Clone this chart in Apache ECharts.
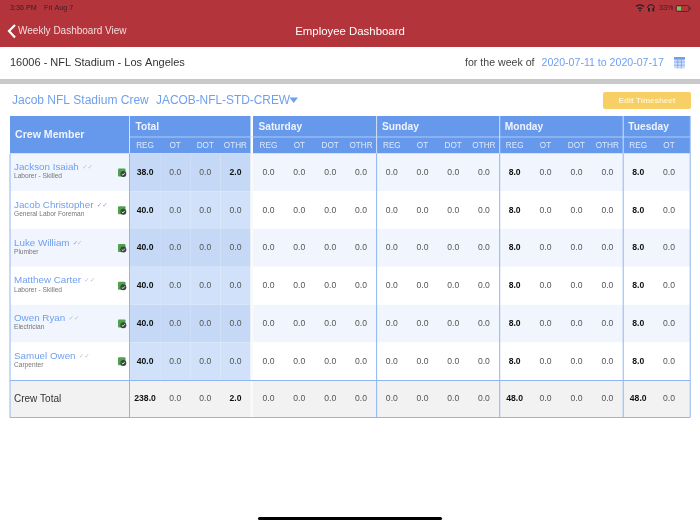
<!DOCTYPE html>
<html>
<head>
<meta charset="utf-8">
<style>html,body{margin:0;padding:0;background:#fff}#main{width:700px;height:525px}</style>
<script src="https://cdn.jsdelivr.net/npm/echarts@6/dist/echarts.min.js"></script>
</head>
<body>
<div id="main"></div>
<script>
var crewRows = ['Jackson Isaiah', 'Jacob Christopher', 'Luke William', 'Matthew Carter', 'Owen Ryan', 'Samuel Owen', 'Crew Total'];
var crewRoles = ['Laborer - Skilled', 'General Labor Foreman', 'Plumber', 'Laborer - Skilled', 'Electrician', 'Carpenter', ''];
var crewChecks = [0, 2, 1, 0, 0, 0];
var fullColumns = ['REG', 'OT', 'DOT', 'OTHR'];

// one value per row, last one is the crew total
var totalReg = [38, 40, 40, 40, 40, 40, 238];
var totalOt = [0, 0, 0, 0, 0, 0, 0];
var totalDot = [0, 0, 0, 0, 0, 0, 0];
var totalOthr = [2, 0, 0, 0, 0, 0, 2];
var satReg = [0, 0, 0, 0, 0, 0, 0];
var satOt = [0, 0, 0, 0, 0, 0, 0];
var satDot = [0, 0, 0, 0, 0, 0, 0];
var satOthr = [0, 0, 0, 0, 0, 0, 0];
var sunReg = [0, 0, 0, 0, 0, 0, 0];
var sunOt = [0, 0, 0, 0, 0, 0, 0];
var sunDot = [0, 0, 0, 0, 0, 0, 0];
var sunOthr = [0, 0, 0, 0, 0, 0, 0];
var monReg = [8, 8, 8, 8, 8, 8, 48];
var monOt = [0, 0, 0, 0, 0, 0, 0];
var monDot = [0, 0, 0, 0, 0, 0, 0];
var monOthr = [0, 0, 0, 0, 0, 0, 0];
var tueReg = [8, 8, 8, 8, 8, 8, 48];
var tueOt = [0, 0, 0, 0, 0, 0, 0];

var groupNames = ['Total', 'Saturday', 'Sunday', 'Monday', 'Tuesday'];
var groupLeft = [130, 253, 376.5, 499.2, 622.8];
var groupWidth = [120.5, 123.5, 122.7, 123.6, 61.6];
var groupColumns = [fullColumns, fullColumns, fullColumns, fullColumns, ['REG', 'OT']];
var groupValues = [
    [totalReg, totalOt, totalDot, totalOthr],
    [satReg, satOt, satDot, satOthr],
    [sunReg, sunOt, sunDot, sunOthr],
    [monReg, monOt, monDot, monOthr],
    [tueReg, tueOt]
];

var FONT = '"Liberation Sans", Arial, sans-serif';
var RED = '#b4343c', HEAD = '#6699ec', LINK = '#6f9fef', EDGE = '#8fb6f0';
var gridTop = 153.5, gridHeight = 264.5;

function bandColor(row) {
    if (row == 6) return '#f2f2f2';
    return row % 2 == 0 ? '#f0f5fe' : '#ffffff';
}

/* whole table: row bands, names, roles and the status icon */
function renderRow(params, api) {
    var row = api.value(1);
    var cs = params.coordSys;
    var size = api.size([0, 1]);
    var cy = api.coord([0, row])[1];
    var kids = [{
        type: 'rect',
        shape: { x: cs.x, y: cy - size[1] / 2, width: cs.width, height: size[1] },
        style: { fill: bandColor(row) }
    }];
    if (row == 6) {
        kids.push({ type: 'text', style: { x: 14, y: cy, text: crewRows[row], fontSize: 10, fontFamily: FONT, fill: '#333', verticalAlign: 'middle' } });
        return { type: 'group', children: kids };
    }
    var c = crewChecks[row];
    var marks = c == 2 ? '{b|✓✓}' : c == 1 ? '{b|✓}{g|✓}' : '{g|✓✓}';
    kids.push({
        type: 'text',
        style: {
            x: 14, y: cy - 5, verticalAlign: 'middle',
            text: '{n|' + crewRows[row] + '} ' + marks,
            rich: {
                n: { fontSize: 9.8, fontFamily: FONT, fill: LINK },
                b: { fontSize: 6.5, fontFamily: 'DejaVu Sans', fill: LINK, width: 4 },
                g: { fontSize: 6.5, fontFamily: 'DejaVu Sans', fill: '#b9bec6', width: 4 }
            }
        }
    });
    kids.push({ type: 'text', style: { x: 14, y: cy + 4, text: crewRoles[row], fontSize: 6.6, fontFamily: FONT, fill: '#777', verticalAlign: 'middle' } });
    kids.push({ type: 'rect', shape: { x: 118, y: cy - 4, width: 7.5, height: 8, r: 1 }, style: { fill: '#4ea24a' } });
    kids.push({ type: 'circle', shape: { cx: 123.3, cy: cy + 1.6, r: 3 }, style: { fill: '#3b4640' } });
    kids.push({ type: 'polyline', shape: { points: [[121.8, cy + 1.7], [123, cy + 2.8], [124.8, cy + 0.6]] }, style: { stroke: '#fff', lineWidth: 0.8, fill: 'none' } });
    return { type: 'group', children: kids };
}

/* one number cell, the Total group also gets its darker blue fill */
function makeCellRenderer(shaded) {
    return function (params, api) {
        var val = api.value(2);
        var row = api.value(1);
        var p = api.coord([api.value(0), row]);
        var size = api.size([1, 1]);
        var kids = [];
        if (shaded && row < 6) {
            kids.push({
                type: 'rect',
                shape: { x: p[0] - size[0] / 2, y: p[1] - size[1] / 2, width: size[0], height: size[1] },
                style: { fill: row % 2 == 0 ? '#c5d9f7' : '#d0e1f9' }
            });
        }
        kids.push({
            type: 'text',
            z2: 5,
            style: {
                x: p[0], y: p[1], text: val.toFixed(1), align: 'center', verticalAlign: 'middle',
                fontSize: 8.6, fontFamily: FONT,
                fontWeight: val != 0 ? 'bold' : 'normal',
                fill: val != 0 ? '#111' : '#555'
            }
        });
        return { type: 'group', children: kids };
    };
}

var grids = [{ left: 10, top: gridTop, width: 680, height: gridHeight }];
var xAxes = [{ type: 'category', gridIndex: 0, data: ['row'], show: false }];
var yAxes = [{ type: 'category', gridIndex: 0, data: crewRows, inverse: true, show: false }];
var rowData = crewRows.map(function (name, i) { return [0, i]; });
var seriesList = [{ type: 'custom', xAxisIndex: 0, yAxisIndex: 0, z: 1, silent: true, clip: false, data: rowData, renderItem: renderRow }];

groupNames.forEach(function (name, g) {
    var idx = g + 1;
    grids.push({ left: groupLeft[g], top: gridTop, width: groupWidth[g], height: gridHeight });
    xAxes.push({
        type: 'category', gridIndex: idx, position: 'top', data: groupColumns[g],
        axisLine: { show: false }, axisTick: { show: false },
        axisLabel: { color: '#dfe9fb', fontSize: 8.2, fontFamily: FONT, margin: 4, interval: 0 }
    });
    yAxes.push({ type: 'category', gridIndex: idx, data: crewRows, inverse: true, show: false });
    var cells = [];
    groupValues[g].forEach(function (col, c) {
        col.forEach(function (v, r) { cells.push([c, r, v]); });
    });
    seriesList.push({
        type: 'custom', name: name, xAxisIndex: idx, yAxisIndex: idx, z: 3, silent: true, clip: false,
        data: cells, renderItem: makeCellRenderer(g == 0)
    });
});

function label(x, y, text, size, fill, extra) {
    var style = { x: x, y: y, text: text, fontSize: size, fontFamily: FONT, fill: fill, verticalAlign: 'middle' };
    for (var k in extra || {}) style[k] = extra[k];
    return { type: 'text', z: 20, style: style };
}
function box(x, y, w, h, fill, z, r) {
    return { type: 'rect', z: z, shape: { x: x, y: y, width: w, height: h, r: r || 0 }, style: { fill: fill } };
}
function line(x1, y1, x2, y2, color, w, z) {
    return { type: 'line', z: z || 10, shape: { x1: x1, y1: y1, x2: x2, y2: y2 }, style: { stroke: color, lineWidth: w || 1 } };
}

var page = [
    box(0, 0, 700, 47, RED, 0),
    box(0, 79, 700, 5, '#c9c9c9', 0),
    box(10, 116, 680, 37.5, HEAD, 0),
    label(10, 8, '3:36 PM', 7.2, '#3a2022'),
    label(44, 8, 'Fri Aug 7', 7.2, '#3a2022'),
    label(659, 8, '33%', 7.2, '#3a2022'),
    { type: 'arc', z: 20, shape: { cx: 640, cy: 11, r: 6, startAngle: -2.3, endAngle: -0.84 }, style: { stroke: '#222', lineWidth: 1.3, fill: 'none' } },
    { type: 'arc', z: 20, shape: { cx: 640, cy: 11, r: 3, startAngle: -2.3, endAngle: -0.84 }, style: { stroke: '#222', lineWidth: 1.3, fill: 'none' } },
    { type: 'circle', z: 20, shape: { cx: 640, cy: 10.5, r: 0.9 }, style: { fill: '#222' } },
    { type: 'arc', z: 20, shape: { cx: 651, cy: 8, r: 3.4, startAngle: Math.PI, endAngle: 0 }, style: { stroke: '#222', lineWidth: 1, fill: 'none' } },
    box(648, 8, 1.8, 3.4, '#222', 20),
    box(652.4, 8, 1.8, 3.4, '#222', 20),
    { type: 'rect', z: 20, shape: { x: 676, y: 5.5, width: 13, height: 6, r: 1.5 }, style: { fill: 'none', stroke: '#3a2022', lineWidth: 0.7 } },
    box(677, 6.5, 4, 4, '#5fd35f', 20),
    box(689.6, 7.5, 1, 2, '#3a2022', 20),
    { type: 'polyline', z: 20, shape: { points: [[15, 25], [9, 31], [15, 37.5]] }, style: { stroke: '#fff', lineWidth: 2.2, fill: 'none' } },
    label(18, 31.5, 'Weekly Dashboard View', 10, '#f3dcdc'),
    label(350, 31.5, 'Employee Dashboard', 11.4, '#fff', { align: 'center' }),
    label(10, 63, '16006 - NFL Stadium - Los Angeles', 11, '#333'),
    label(465, 63, 'for the week of', 10.6, '#444'),
    label(541.5, 63, '2020-07-11 to 2020-07-17', 10.6, LINK),
    box(674, 57, 11, 11.5, '#cfdffa', 20, 1),
    box(674, 57, 11, 2.6, LINK, 20),
    line(677.7, 59, 677.7, 68.5, LINK, 0.7, 21),
    line(681.3, 59, 681.3, 68.5, LINK, 0.7, 21),
    line(674, 62, 685, 62, LINK, 0.7, 21),
    line(674, 65.2, 685, 65.2, LINK, 0.7, 21),
    label(12, 100.5, 'Jacob NFL Stadium Crew', 12, LINK),
    label(156, 100.5, 'JACOB-NFL-STD-CREW', 11.9, LINK),
    { type: 'polygon', z: 20, shape: { points: [[289.5, 97.5], [298, 97.5], [293.7, 103]] }, style: { fill: LINK } },
    box(603, 92, 88, 17, '#f7cf65', 0, 2),
    label(647, 100.5, 'Edit Timesheet', 8, '#fff2cf', { align: 'center', fontWeight: 'bold' }),
    label(15, 135, 'Crew Member', 10.6, '#eef3fd', { fontWeight: 'bold' }),
    box(258, 517, 184, 3, '#000', 0, 1.5),
    // header dividers
    line(130, 137, 690, 137, '#c4d8f8', 0.8),
    line(129.5, 116, 129.5, 153.5, '#d5e2fa', 1),
    line(376.6, 116, 376.6, 153.5, '#d5e2fa', 1),
    line(499.7, 116, 499.7, 153.5, '#d5e2fa', 1),
    line(623.2, 116, 623.2, 153.5, '#d5e2fa', 1),
    box(250.5, 116, 2.5, 37.5, '#fff', 5),
    box(250.5, 153.5, 2.5, 264, '#fafafa', 5),
    // table rules
    line(10, 153.5, 10, 417.5, EDGE),
    line(129.5, 153.5, 129.5, 417.5, EDGE),
    line(376.6, 153.5, 376.6, 417.5, EDGE),
    line(499.7, 153.5, 499.7, 417.5, EDGE),
    line(623.2, 153.5, 623.2, 417.5, EDGE),
    line(690.2, 116, 690.2, 417.5, EDGE),
    line(10, 380.5, 690, 380.5, EDGE),
    line(10, 417.5, 690, 417.5, EDGE)
];
groupNames.forEach(function (name, g) {
    page.push(label(groupLeft[g] + 5.5, 127.5, name, 10.2, '#eef3fd', { fontWeight: 'bold' }));
});

var myChart = echarts.init(document.getElementById('main'));
myChart.setOption({
    animation: false,
    backgroundColor: '#fff',
    textStyle: { fontFamily: FONT },
    grid: grids,
    xAxis: xAxes,
    yAxis: yAxes,
    series: seriesList,
    graphic: { elements: page }
});
</script>
</body>
</html>
